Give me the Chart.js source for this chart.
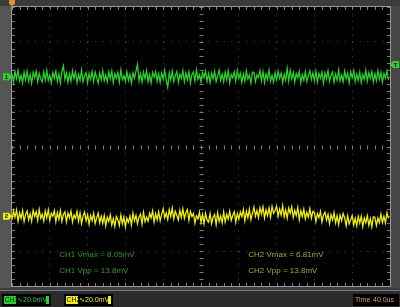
<!DOCTYPE html>
<html>
<head>
<meta charset="utf-8">
<script src="https://cdn.jsdelivr.net/npm/chart.js@4/dist/chart.umd.min.js"></script>
<style>
html, body { margin: 0; padding: 0; background: #3b3b3b; }
#wrap { width: 400px; height: 307px; position: relative; }
</style>
</head>
<body>
<div id="wrap"><canvas id="scope"></canvas></div>
<script>
// CH1 samples, mV around its own level (one sample every 1.6us)
let ch1 = [
  1.6,-3.2,2.9,-1.1,3.6,-2.4,0.8,-3.5,2.7,-1.7,
  3.3,-2.6,1.2,-3.8,2.5,-0.6,3.1,-2.9,1.9,-1.3,
  -3.0,2.8,-1.9,3.7,-2.2,0.9,-3.4,2.4,-0.8,3.2,
  -2.7,1.5,-3.6,2.9,6.2,-1.4,2.2,-3.1,1.7,-2.5,
  3.4,-1.0,2.6,-3.3,1.3,-2.0,3.8,-2.8,0.7,2.3,
  -3.5,1.9,-1.5,3.0,-2.6,2.7,-0.4,-3.7,2.1,-1.8,
  3.5,-2.3,1.0,-2.9,2.8,-1.2,3.3,-3.4,1.6,-0.9,
  2.5,-3.1,3.9,-1.6,0.5,-2.7,2.9,-2.1,1.4,-3.6,
  2.2,-0.7,3.1,7.0,-2.4,1.8,-3.0,2.6,-1.1,3.4,
  -2.8,1.1,-3.5,2.4,-0.3,3.0,-2.5,1.7,-3.2,2.0,
  -1.4,3.6,-2.0,-6.0,2.3,-1.9,3.2,-2.7,0.6,2.9,
  -3.3,1.4,-0.8,3.5,-2.9,2.1,-1.6,3.0,-3.7,1.2,
  2.7,-2.2,3.9,-1.5,1.0,-3.0,2.5,-0.5,3.3,-2.6,
  1.8,-3.4,2.2,-1.2,3.1,-2.8,0.4,3.7,-2.1,1.5,
  -2.9,2.6,-1.7,3.4,-3.5,1.3,-0.6,2.8,-2.4,3.6,
  -1.0,2.0,-3.2,1.6,-2.5,3.3,-1.3,0.9,-3.6,2.7,
  2.4,-2.9,1.1,-0.4,3.5,-2.2,2.9,-3.3,1.7,-1.5,
  3.8,-2.6,0.7,-3.1,2.3,-1.8,3.2,-0.9,2.0,-3.4,
  1.4,-1.9,4.8,-2.4,3.6,-1.2,2.5,-3.0,1.9,-0.7,
  3.0,-3.5,1.3,-2.0,2.8,-2.7,0.5,3.4,-1.6,2.2,
  -2.3,3.1,-3.0,1.8,-0.8,2.6,-3.6,2.1,-1.3,3.5,
  -2.6,0.9,2.7,-3.2,1.5,-1.9,3.9,-2.4,1.0,-2.8,
  3.2,-1.1,2.0,-3.5,2.9,-0.6,3.4,-2.7,1.6,-2.1,
  2.6,-3.3,1.2,-1.5,3.7,-2.5,2.3,-0.9,3.0,-3.0,
  1.7,-2.2,3.5,-1.4,2.6,-3.1,1.9,-0.8,3.3,-2.0
];
// CH2 samples, mV around its own level
let ch2 = [
  -2.0,3.1,-0.6,3.5,-2.8,1.9,-1.2,3.3,-3.0,1.1,
  3.0,-2.0,1.5,-2.9,3.5,-0.1,2.6,-2.3,3.9,-1.1,
  1.2,-2.8,3.1,-1.0,3.7,-2.3,1.7,0.0,3.3,-3.0,
  2.1,-1.7,3.2,-2.9,1.0,2.5,-3.1,1.8,-0.9,2.9,
  -3.3,0.7,-1.1,2.8,-2.9,2.0,-4.1,0.1,2.4,-2.5,
  0.9,-4.6,0.4,-2.5,1.7,-4.2,-0.9,1.8,-3.8,0.0,
  -4.0,0.4,-5.5,-0.5,-3.1,0.8,-5.0,-1.3,-5.8,-0.1,
  -2.0,-5.3,0.7,-4.3,-0.4,-6.1,-1.1,-3.5,0.1,-4.9,
  1.8,-2.6,0.5,-4.3,-0.4,1.3,-4.5,2.2,-3.1,-0.5,
  -2.8,1.7,-0.9,3.1,-3.3,1.4,-2.0,2.6,-2.6,1.1,
  4.3,-0.8,1.9,-1.9,3.8,-0.1,4.7,-1.5,2.8,0.6,
  -2.1,3.4,-0.6,4.2,-1.2,2.0,3.8,-2.4,2.8,-0.1,
  1.6,-3.9,0.2,-1.5,2.3,-3.5,1.0,-4.2,1.7,-2.3,
  -3.4,1.6,-4.2,-0.6,1.0,-4.8,2.0,-3.0,0.2,-3.9,
  2.5,-3.3,1.1,-1.5,2.9,-2.4,0.4,2.6,-3.4,1.6,
  -1.7,2.4,-0.2,3.8,-2.6,2.9,-0.9,4.1,-1.9,1.6,
  5.3,0.0,3.3,-0.8,4.8,1.3,5.4,-1.0,3.7,0.4,
  4.7,-0.5,5.5,1.7,3.3,5.8,0.0,4.1,0.7,6.1,
  -0.3,3.7,-1.0,4.7,1.6,5.4,-0.6,3.4,0.4,5.0,
  -2.0,3.1,-0.1,4.1,-1.5,2.2,-0.5,4.4,-1.1,2.8,
  2.2,-3.0,1.5,-0.8,2.8,-3.3,0.6,2.3,-2.2,1.1,
  -4.2,0.9,-2.1,2.0,-3.8,0.3,-4.7,0.7,-2.5,1.6,
  -0.9,-5.5,0.2,-4.3,-2.0,0.4,-5.0,-1.2,-5.4,-0.1,
  -3.9,-0.1,-6.0,-1.0,-3.7,0.3,-5.2,-1.4,-6.1,-0.3,
  -0.8,-5.3,-1.0,-3.6,1.2,-3.6,-0.1,-3.8,2.0,-1.2
];
let ch1Level = 40;   // mV on screen (2 div up)
let ch2Level = -40;  // mV on screen (2 div down)
let trigLevel = 47;
let sampleStep = 1.6; // us
let timeDiv = 40;     // us/div
let voltDiv = 20;     // mV/div
let ch1Text = ['CH1 Vmax = 8.05mV', 'CH1 Vpp = 13.8mV'];
let ch2Text = ['CH2 Vmax = 6.81mV', 'CH2 Vpp = 13.8mV'];
let ch1Scale = '20.0mV';
let ch2Scale = '20.0mV';
let timeText = '40.0us';

let green = '#26d626';
let yellow = '#f2f200';

function marker(ctx, x, y, dir, fill, label){
    ctx.save();
    ctx.fillStyle = fill;
    ctx.beginPath();
    if(dir > 0){
        ctx.moveTo(x - 8, y - 3.5); ctx.lineTo(x - 2, y - 3.5); ctx.lineTo(x + 1, y);
        ctx.lineTo(x - 2, y + 3.5); ctx.lineTo(x - 8, y + 3.5);
    } else {
        ctx.moveTo(x + 8, y - 3.5); ctx.lineTo(x + 2, y - 3.5); ctx.lineTo(x - 1, y);
        ctx.lineTo(x + 2, y + 3.5); ctx.lineTo(x + 8, y + 3.5);
    }
    ctx.closePath();
    ctx.fill();
    ctx.fillStyle = '#000';
    ctx.font = 'bold 6px "Liberation Sans"';
    ctx.textAlign = 'center';
    ctx.textBaseline = 'middle';
    ctx.fillText(label, x + (dir > 0 ? -4.5 : 4.5), y + 0.5);
    ctx.restore();
}

let scopePlugin = {
    id: 'scope',
    beforeDraw(chart){
        let ctx = chart.ctx, a = chart.chartArea;
        ctx.save();
        ctx.fillStyle = '#3b3b3b';
        ctx.fillRect(0, 0, chart.width, chart.height);
        ctx.fillStyle = '#555';
        ctx.fillRect(0, a.top - 1, a.left - 1, a.bottom - a.top + 3);
        ctx.fillStyle = '#464646';
        ctx.fillRect(a.right + 1, a.top - 1, chart.width - a.right, a.bottom - a.top + 3);
        ctx.fillStyle = '#000';
        ctx.fillRect(a.left, a.top, a.right - a.left, a.bottom - a.top);
        ctx.restore();
    },
    beforeDatasetsDraw(chart){
        let ctx = chart.ctx, a = chart.chartArea;
        let xs = chart.scales.x, ys = chart.scales.y;
        let cx = xs.getPixelForValue(timeDiv * 5), cy = ys.getPixelForValue(0);
        ctx.save();
        ctx.strokeStyle = '#7c7c7c';
        ctx.lineWidth = 1;
        ctx.beginPath();
        for(let t = 0; t <= timeDiv * 10; t += timeDiv / 5){
            let px = Math.round(xs.getPixelForValue(t)) + 0.5;
            ctx.moveTo(px, a.top); ctx.lineTo(px, a.top + 3);
            ctx.moveTo(px, a.bottom); ctx.lineTo(px, a.bottom - 3);
            ctx.moveTo(px, Math.round(cy) - 1.5); ctx.lineTo(px, Math.round(cy) + 2.5);
        }
        for(let v = -4 * voltDiv; v <= 4 * voltDiv; v += voltDiv / 5){
            let py = Math.round(ys.getPixelForValue(v)) + 0.5;
            ctx.moveTo(a.left, py); ctx.lineTo(a.left + 3, py);
            ctx.moveTo(a.right, py); ctx.lineTo(a.right - 3, py);
            ctx.moveTo(Math.round(cx) - 1.5, py); ctx.lineTo(Math.round(cx) + 2.5, py);
        }
        ctx.stroke();
        ctx.strokeStyle = '#9a9a9a';
        ctx.strokeRect(Math.round(a.left) - 0.5, Math.round(a.top) - 0.5, Math.round(a.right - a.left) + 1, Math.round(a.bottom - a.top) + 1);

        // measurement read-outs
        ctx.font = '8px "Liberation Sans"';
        ctx.textBaseline = 'middle';
        ctx.fillStyle = '#2e9c2e';
        ctx.fillText(ch1Text[0], xs.getPixelForValue(50), ys.getPixelForValue(-62));
        ctx.fillText(ch1Text[1], xs.getPixelForValue(50), ys.getPixelForValue(-71));
        ctx.fillStyle = '#a8a820';
        ctx.fillText(ch2Text[0], xs.getPixelForValue(250), ys.getPixelForValue(-62));
        ctx.fillText(ch2Text[1], xs.getPixelForValue(250), ys.getPixelForValue(-71));
        ctx.restore();
    },
    afterDraw(chart){
        let ctx = chart.ctx, a = chart.chartArea;
        let xs = chart.scales.x, ys = chart.scales.y;
        ctx.save();
        // channel and trigger markers
        marker(ctx, a.left - 1, ys.getPixelForValue(ch1Level), 1, green, '1');
        marker(ctx, a.left - 1, ys.getPixelForValue(ch2Level), 1, yellow, '2');
        marker(ctx, a.right + 1, ys.getPixelForValue(trigLevel), -1, green, 'T');
        let tx = xs.getPixelForValue(0);
        ctx.fillStyle = '#e0902a';
        ctx.beginPath();
        ctx.moveTo(tx - 3, 0); ctx.lineTo(tx + 3, 0); ctx.lineTo(tx + 3, 4);
        ctx.lineTo(tx, a.top - 1); ctx.lineTo(tx - 3, 4);
        ctx.closePath(); ctx.fill();

        // status bar
        let by = a.bottom + 4;
        ctx.fillStyle = '#7a7a7a';
        ctx.fillRect(0, by, chart.width, 1);
        ctx.fillStyle = '#2c2c2c';
        ctx.fillRect(0, by + 1, chart.width, chart.height - by - 1);
        ctx.font = '7px "Liberation Sans"';
        ctx.textBaseline = 'middle';
        let sy = by + 10;
        [[2, green, 'CH1', ch1Scale], [64, yellow, 'CH2', ch2Scale]].forEach(function(s){
            let x0 = s[0];
            ctx.fillStyle = '#000';
            ctx.fillRect(x0, sy - 6, 49, 12);
            ctx.fillStyle = s[1];
            ctx.fillRect(x0 + 2, sy - 4, 12, 8);
            ctx.fillRect(x0 + 44, sy - 4, 3, 8);
            ctx.fillStyle = '#0a0a0a';
            ctx.fillText(s[2], x0 + 2.5, sy + 0.5);
            ctx.fillStyle = s[1];
            ctx.fillText('\u223F', x0 + 14.5, sy);
            ctx.fillText(s[3], x0 + 21, sy + 0.5);
        });
        ctx.fillStyle = '#000';
        ctx.fillRect(353, sy - 6, 46, 12);
        ctx.fillStyle = '#d8a060';
        ctx.fillText('Time', 355, sy + 0.5);
        ctx.fillText(timeText, 373, sy + 0.5);
        ctx.restore();
    }
};

let ctx = document.getElementById('scope').getContext('2d');
let chart = new Chart(ctx, {
    type: 'line',
    data: {
        datasets: [
        { // CH1
            data: ch1.map((v, i) => ({x: i * sampleStep, y: v + ch1Level})),
            borderColor: green,
            borderWidth: 1.3,
            pointRadius: 0,
            tension: 0
        },
        { // CH2
            data: ch2.map((v, i) => ({x: i * sampleStep, y: v + ch2Level})),
            borderColor: yellow,
            borderWidth: 1.3,
            pointRadius: 0,
            tension: 0
        }]
    },
    options: {
        responsive: true,
        maintainAspectRatio: false,
        animation: false,
        events: [],
        layout: { padding: { left: 12, top: 7, right: 10, bottom: 21 } },
        plugins: { legend: { display: false }, tooltip: { enabled: false } },
        scales: {
            x: {
                type: 'linear', min: 0, max: timeDiv * 10,
                ticks: { display: false, stepSize: timeDiv },
                grid: { color: '#4c4c4c', drawTicks: false, lineWidth: 1 },
                border: { display: false, dash: [1, 5.98] }
            },
            y: {
                type: 'linear', min: -4 * voltDiv, max: 4 * voltDiv,
                ticks: { display: false, stepSize: voltDiv },
                grid: { color: '#4c4c4c', drawTicks: false, lineWidth: 1 },
                border: { display: false, dash: [1, 6.56] }
            }
        }
    },
    plugins: [scopePlugin]
});
</script>
</body>
</html>
